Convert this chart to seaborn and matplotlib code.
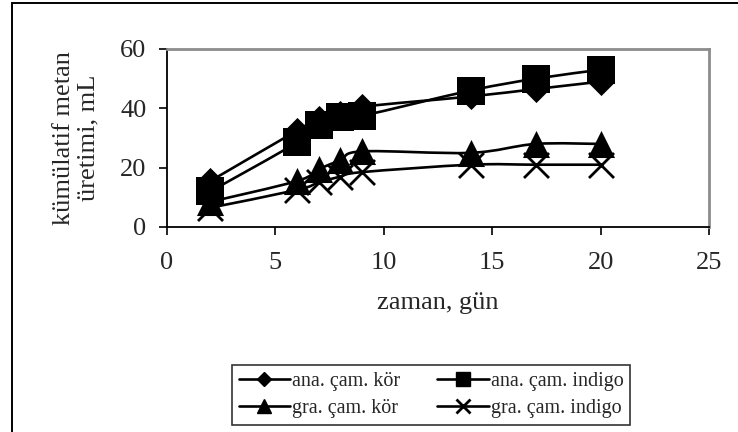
import numpy as np
import pandas as pd
import matplotlib
matplotlib.use("Agg")
import matplotlib.pyplot as plt
from matplotlib.path import Path
from matplotlib.patches import PathPatch, Rectangle
from matplotlib.lines import Line2D
import seaborn as sns

# Cumulative methane production (mL) over time (days)
days = [2, 6, 7, 8, 9, 14, 17, 20]
ana_kor = [15.5, 32.5, 36.5, 38, 40.5, 44, 46.5, 49]
ana_indigo = [12, 28.5, 34.5, 37, 37.5, 46, 50, 53]
gra_kor = [8.5, 15.5, 19.5, 22.5, 25.5, 25, 28, 28]
gra_indigo = [6.5, 12.5, 15, 17, 18.5, 21, 21, 21]
series_names = ["ana. çam. kör", "ana. çam. indigo", "gra. çam. kör", "gra. çam. indigo"]
x_ticks = [0, 5, 10, 15, 20, 25]
y_ticks = [0, 20, 40, 60]

sns.set_style("white")
plt.rcParams["font.family"] = ["Liberation Serif", "DejaVu Serif"]

fig = plt.figure(figsize=(7.38, 4.32), dpi=100)
ax = fig.add_axes([167 / 738, 1 - 227 / 432, (709 - 167) / 738, (227 - 49) / 432])

df = pd.DataFrame({
    "gün": days * 4,
    "metan": ana_kor + ana_indigo + gra_kor + gra_indigo,
    "seri": sum([[n] * len(days) for n in series_names], []),
})

marker_styles = {
    "ana. çam. kör": dict(marker="D", s=13.8 ** 2),
    "ana. çam. indigo": dict(marker="s", s=19.5 ** 2),
    "gra. çam. kör": dict(marker="^", s=19.5 ** 2),
    "gra. çam. indigo": dict(marker="x", s=18 ** 2),
}


def smooth_path(xs, ys):
    """Cubic Bezier through every point (Catmull-Rom style smoothing)."""
    pts = np.column_stack([xs, ys]).astype(float)
    verts = [pts[0]]
    codes = [Path.MOVETO]
    n = len(pts)
    for i in range(n - 1):
        p0 = pts[i - 1] if i > 0 else pts[i]
        p1 = pts[i]
        p2 = pts[i + 1]
        p3 = pts[i + 2] if i + 2 < n else pts[i + 1]
        c1 = p1 + (p2 - p0) / 6.0
        c2 = p2 - (p3 - p1) / 6.0
        verts += [c1, c2, p2]
        codes += [Path.CURVE4] * 3
    return Path(verts, codes)


for name in series_names:
    sub = df[df["seri"] == name]
    ax.add_patch(PathPatch(smooth_path(sub["gün"], sub["metan"]), facecolor="none",
                           edgecolor="black", lw=1.9, zorder=2))

for name in series_names:
    sub = df[df["seri"] == name]
    st = marker_styles[name]
    kw = dict(linewidth=2.0) if st["marker"] == "x" else dict(linewidth=0)
    sns.scatterplot(data=sub, x="gün", y="metan", marker=st["marker"], s=st["s"],
                    color="black", ax=ax, legend=False, zorder=3, **kw)

ax.set_xlim(0, 25)
ax.set_ylim(0, 60)
ax.set_xticks(x_ticks)
ax.set_yticks(y_ticks)
ax.tick_params(axis="both", which="major", labelsize=19, direction="out",
               length=5.8, width=1.2, color="black", bottom=True, left=True)
ax.tick_params(axis="x", pad=12)
ax.tick_params(axis="y", pad=9)
ax.set_xlabel("zaman, gün", fontsize=19, labelpad=13)
ax.set_ylabel("kümülatif metan\nüretimi, mL", fontsize=19, labelpad=15, linespacing=1.15)

for side in ["left", "bottom"]:
    ax.spines[side].set_color("black")
    ax.spines[side].set_linewidth(1.3)
for side in ["top", "right"]:
    ax.spines[side].set_color("#8c8c8c")
    ax.spines[side].set_linewidth(2.0)

# chart frame
fig.patches.append(Rectangle((11.5 / 738, -0.1), 1.2, 1.1 - 3.5 / 432,
                             transform=fig.transFigure, fill=False,
                             edgecolor="black", lw=1.4, zorder=0))

# legend entries ordered so that the two columns read row by row
handles = {
    "ana. çam. kör": Line2D([], [], color="black", lw=1.9, marker="D", markersize=6.8),
    "ana. çam. indigo": Line2D([], [], color="black", lw=1.9, marker="s", markersize=10),
    "gra. çam. kör": Line2D([], [], color="black", lw=1.9, marker="^", markersize=10),
    "gra. çam. indigo": Line2D([], [], color="black", lw=1.9, marker="x", markersize=9.5,
                               markeredgewidth=2),
}
order = ["ana. çam. kör", "gra. çam. kör", "ana. çam. indigo", "gra. çam. indigo"]
leg = fig.legend([handles[k] for k in order], order, ncol=2, loc="center",
                 bbox_to_anchor=(431 / 738, 1 - 395 / 432),
                 fontsize=14.5, frameon=True, fancybox=False,
                 edgecolor="black", handlelength=2.55, handletextpad=0.1,
                 columnspacing=1.85, borderpad=0.35, labelspacing=0.4)
leg.get_frame().set_linewidth(1.2)

fig.savefig("out.png", dpi=100)
